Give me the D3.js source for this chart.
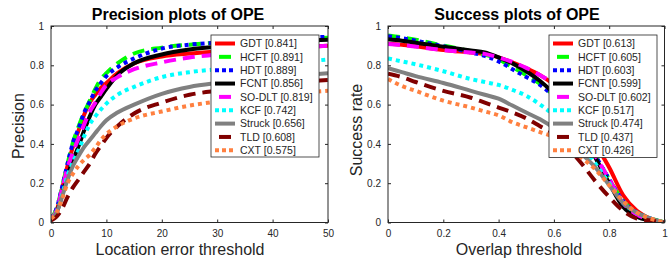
<!DOCTYPE html>
<html>
<head>
<meta charset="utf-8">
<script src="https://cdn.jsdelivr.net/npm/d3@7"></script>
<style>
  body { margin: 0; background: #fff; }
  svg { display: block; font-family: "Liberation Sans", Arial, sans-serif; }
  .tick text { fill: #262626; font-size: 10px; }
  .axis path, .axis line { stroke: #262626; }
</style>
</head>
<body>
<svg id="chart" width="668" height="261"></svg>
<script>
// Tracker names and styles (legend order = draw order)
const trackers = ["GDT", "HCFT", "HDT", "FCNT", "SO-DLT", "KCF", "Struck", "TLD", "CXT"];
const colors = ["#ff0000", "#00ff00", "#0000ff", "#000000", "#ff00ff", "#00ffff", "#808080", "#800000", "#ff8040"];
const dashes = ["none", "12,7", "4,4", "none", "12,7", "4,4", "none", "12,7", "4,4"];

// Precision plot
const precScores = ["0.841", "0.891", "0.889", "0.856", "0.819", "0.742", "0.656", "0.608", "0.575"];
const precX = [0, 1, 2, 3, 4, 5, 6, 7, 8, 9, 10, 12, 15, 20, 25, 30, 35, 40, 45, 50];
const precGDT    = [0.02, 0.06, 0.17, 0.29, 0.39, 0.47, 0.55, 0.61, 0.65, 0.685, 0.71, 0.76, 0.81, 0.845, 0.86, 0.87, 0.878, 0.885, 0.892, 0.9];
const precHCFT   = [0.02, 0.07, 0.18, 0.30, 0.41, 0.49, 0.56, 0.62, 0.68, 0.73, 0.76, 0.81, 0.86, 0.89, 0.905, 0.915, 0.92, 0.93, 0.935, 0.94];
const precHDT    = [0.02, 0.07, 0.18, 0.30, 0.41, 0.48, 0.56, 0.615, 0.67, 0.71, 0.745, 0.79, 0.835, 0.885, 0.905, 0.915, 0.925, 0.935, 0.94, 0.945];
const precFCNT   = [0.02, 0.05, 0.14, 0.24, 0.32, 0.39, 0.47, 0.54, 0.60, 0.64, 0.68, 0.75, 0.81, 0.855, 0.88, 0.895, 0.91, 0.92, 0.925, 0.93];
const precSODLT  = [0.02, 0.06, 0.17, 0.28, 0.36, 0.43, 0.50, 0.565, 0.61, 0.66, 0.70, 0.74, 0.78, 0.815, 0.84, 0.855, 0.87, 0.88, 0.89, 0.90];
const precKCF    = [0.02, 0.05, 0.14, 0.24, 0.31, 0.37, 0.44, 0.50, 0.54, 0.575, 0.605, 0.65, 0.69, 0.74, 0.765, 0.78, 0.79, 0.80, 0.815, 0.83];
const precStruck = [0.02, 0.05, 0.13, 0.22, 0.29, 0.34, 0.385, 0.42, 0.455, 0.49, 0.52, 0.56, 0.60, 0.655, 0.69, 0.71, 0.725, 0.74, 0.75, 0.76];
const precTLD    = [0.01, 0.03, 0.07, 0.13, 0.18, 0.22, 0.26, 0.30, 0.35, 0.39, 0.43, 0.49, 0.555, 0.61, 0.65, 0.67, 0.685, 0.70, 0.715, 0.725];
const precCXT    = [0.02, 0.05, 0.12, 0.20, 0.25, 0.29, 0.32, 0.345, 0.38, 0.42, 0.45, 0.49, 0.53, 0.565, 0.595, 0.615, 0.63, 0.645, 0.66, 0.67];
const precSeries = [precGDT, precHCFT, precHDT, precFCNT, precSODLT, precKCF, precStruck, precTLD, precCXT];
const precXTicks = [0, 10, 20, 30, 40, 50];

// Success plot
const succScores = ["0.613", "0.605", "0.603", "0.599", "0.602", "0.517", "0.474", "0.437", "0.426"];
const succX = [0, 0.05, 0.1, 0.2, 0.3, 0.35, 0.4, 0.45, 0.5, 0.55, 0.6, 0.65, 0.7, 0.75, 0.8, 0.85, 0.9, 0.95, 1];
const succGDT    = [0.91, 0.905, 0.897, 0.878, 0.865, 0.858, 0.84, 0.815, 0.785, 0.75, 0.70, 0.62, 0.52, 0.40, 0.28, 0.14, 0.06, 0.02, 0];
const succHCFT   = [0.952, 0.942, 0.93, 0.9, 0.872, 0.855, 0.83, 0.79, 0.75, 0.705, 0.645, 0.56, 0.46, 0.34, 0.22, 0.11, 0.05, 0.02, 0];
const succHDT    = [0.948, 0.938, 0.925, 0.897, 0.865, 0.848, 0.82, 0.78, 0.74, 0.70, 0.64, 0.555, 0.46, 0.34, 0.22, 0.11, 0.05, 0.02, 0];
const succFCNT   = [0.932, 0.925, 0.915, 0.895, 0.876, 0.866, 0.84, 0.81, 0.77, 0.72, 0.655, 0.56, 0.45, 0.33, 0.20, 0.08, 0.03, 0.01, 0];
const succSODLT  = [0.908, 0.903, 0.895, 0.877, 0.865, 0.858, 0.84, 0.817, 0.787, 0.75, 0.70, 0.60, 0.48, 0.34, 0.22, 0.10, 0.04, 0.015, 0];
const succKCF    = [0.835, 0.82, 0.805, 0.77, 0.73, 0.715, 0.70, 0.675, 0.645, 0.60, 0.545, 0.47, 0.39, 0.30, 0.20, 0.10, 0.05, 0.02, 0];
const succStruck = [0.785, 0.765, 0.745, 0.71, 0.67, 0.65, 0.63, 0.595, 0.56, 0.525, 0.48, 0.42, 0.35, 0.28, 0.19, 0.10, 0.05, 0.02, 0];
const succTLD    = [0.757, 0.74, 0.715, 0.67, 0.635, 0.61, 0.585, 0.56, 0.53, 0.49, 0.45, 0.38, 0.30, 0.21, 0.13, 0.06, 0.02, 0.01, 0];
const succCXT    = [0.73, 0.695, 0.67, 0.62, 0.585, 0.565, 0.545, 0.51, 0.485, 0.46, 0.435, 0.39, 0.33, 0.27, 0.19, 0.11, 0.05, 0.02, 0];
const succSeries = [succGDT, succHCFT, succHDT, succFCNT, succSODLT, succKCF, succStruck, succTLD, succCXT];
const succXTicks = [0, 0.2, 0.4, 0.6, 0.8, 1];

const yTicks = [0, 0.2, 0.4, 0.6, 0.8, 1];

const svg = d3.select("#chart");

function drawPanel(opt) {
    const { left, right, top, bottom } = opt.box;
    const x = d3.scaleLinear().domain(opt.xDomain).range([left, right]);
    const y = d3.scaleLinear().domain([0, 1]).range([bottom, top]);
    const g = svg.append("g");

    // clip curves to the axes box
    const clipId = "clip-" + opt.id;
    g.append("clipPath").attr("id", clipId)
        .append("rect").attr("x", left).attr("y", top - 3)
        .attr("width", right - left).attr("height", bottom - top + 3);

    const line = d3.line()
        .x(d => x(d[0]))
        .y(d => y(d[1]))
        .curve(d3.curveMonotoneX);

    const curves = g.append("g").attr("clip-path", `url(#${clipId})`);
    opt.series.forEach((vals, i) => {
        curves.append("path")
            .datum(opt.xs.map((v, j) => [v, vals[j]]))
            .attr("fill", "none")
            .attr("stroke", colors[i])
            .attr("stroke-width", 4)
            .attr("stroke-dasharray", dashes[i])
            .attr("d", line);
    });

    // axes, ticks inside like MATLAB
    g.append("g").attr("class", "axis")
        .attr("transform", `translate(0,${bottom})`)
        .call(d3.axisBottom(x).tickValues(opt.xTicks).tickSizeInner(-3).tickSizeOuter(0).tickPadding(7)
            .tickFormat(d3.format("")))
        .call(a => a.select(".domain").remove());
    g.append("g").attr("class", "axis")
        .attr("transform", `translate(0,${top})`)
        .call(d3.axisTop(x).tickValues(opt.xTicks).tickSizeInner(-3).tickSizeOuter(0).tickFormat(""))
        .call(a => a.select(".domain").remove());
    g.append("g").attr("class", "axis")
        .attr("transform", `translate(${left},0)`)
        .call(d3.axisLeft(y).tickValues(yTicks).tickSizeInner(-3).tickSizeOuter(0).tickPadding(7)
            .tickFormat(d3.format("")))
        .call(a => a.select(".domain").remove());
    g.append("g").attr("class", "axis")
        .attr("transform", `translate(${right},0)`)
        .call(d3.axisRight(y).tickValues(yTicks).tickSizeInner(-3).tickSizeOuter(0).tickFormat(""))
        .call(a => a.select(".domain").remove());

    g.append("rect")
        .attr("x", left).attr("y", top)
        .attr("width", right - left).attr("height", bottom - top)
        .attr("fill", "none").attr("stroke", "#262626").attr("stroke-width", 1);

    // titles and labels
    g.append("text")
        .attr("x", opt.titleX).attr("y", 19.5)
        .attr("text-anchor", "middle")
        .attr("font-size", 16).attr("font-weight", "bold")
        .text(opt.title);
    g.append("text")
        .attr("x", opt.titleX + 2).attr("y", 255)
        .attr("text-anchor", "middle")
        .attr("font-size", 16).attr("fill", "#262626")
        .text(opt.xLabel);
    g.append("text")
        .attr("transform", `translate(${opt.yLabelX},${opt.yLabelY}) rotate(-90)`)
        .attr("text-anchor", "middle")
        .attr("font-size", 16).attr("fill", "#262626")
        .text(opt.yLabel);

    // legend
    const lg = opt.legend;
    g.append("rect")
        .attr("x", lg.x).attr("y", lg.y)
        .attr("width", lg.w).attr("height", lg.h)
        .attr("fill", "#fff").attr("stroke", "#262626").attr("stroke-width", 0.8);
    trackers.forEach((name, i) => {
        const cy = lg.y + 8.5 + i * 13.35;
        g.append("line")
            .attr("x1", lg.x + 4).attr("x2", lg.x + 24)
            .attr("y1", cy).attr("y2", cy)
            .attr("stroke", colors[i]).attr("stroke-width", 4)
            .attr("stroke-dasharray", dashes[i] === "none" ? "none" : (dashes[i] === "4,4" ? "4,3" : "12,4"))
            .attr("stroke-dashoffset", dashes[i] === "12,7" ? -4 : 0);
        g.append("text")
            .attr("x", lg.x + 29).attr("y", cy + 3.8)
            .attr("font-size", 10.5).attr("fill", "#262626")
            .text(`${name} [${opt.scores[i]}]`);
    });
}

drawPanel({
    id: "prec",
    box: { left: 51, right: 328, top: 26, bottom: 222.5 },
    xDomain: [0, 50], xs: precX, series: precSeries, xTicks: precXTicks,
    title: "Precision plots of OPE", titleX: 178,
    xLabel: "Location error threshold",
    yLabel: "Precision", yLabelX: 24, yLabelY: 126,
    scores: precScores,
    legend: { x: 211, y: 35, w: 108, h: 122 }
});

drawPanel({
    id: "succ",
    box: { left: 388, right: 664.5, top: 26, bottom: 222.5 },
    xDomain: [0, 1], xs: succX, series: succSeries, xTicks: succXTicks,
    title: "Success plots of OPE", titleX: 517,
    xLabel: "Overlap threshold",
    yLabel: "Success rate", yLabelX: 362, yLabelY: 130,
    scores: succScores,
    legend: { x: 549, y: 35, w: 108, h: 122.5 }
});
</script>
</body>
</html>
